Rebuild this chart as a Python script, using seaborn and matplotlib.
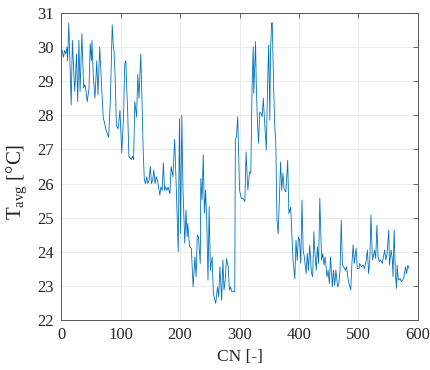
import matplotlib
matplotlib.use('Agg')
import matplotlib.pyplot as plt
import seaborn as sns
import pandas as pd

# valores (ciclo y temperatura media)
cn = [0, 2, 4, 6, 8, 10, 11, 13, 15, 17, 19, 21, 23, 26, 28, 30, 32, 35, 38, 40,
      42, 44, 47, 49, 51, 52, 54, 57, 60, 62, 65, 68, 71, 73, 75, 77, 80, 83, 86, 88,
      89, 91, 93, 96, 99, 102, 105, 107, 109, 110, 112, 114, 116, 118, 120, 122, 124, 127, 129, 131,
      134, 136, 138, 140, 142, 144, 146, 148, 150, 152, 154, 156, 158, 160, 162, 164, 166, 168, 170, 172,
      174, 176, 178, 180, 183, 185, 188, 191, 194, 197, 199, 201, 203, 205, 208, 210, 212, 213, 216, 219,
      222, 225, 227, 229, 231, 234, 235, 237, 239, 241, 243, 245, 247, 249, 251, 254, 256, 258, 260, 263,
      265, 267, 270, 272, 274, 276, 278, 281, 283, 285, 287, 290, 292, 293, 295, 297, 300, 303, 306, 309,
      311, 314, 317, 319, 321, 323, 324, 327, 328, 330, 332, 334, 336, 338, 340, 342, 345, 347, 349, 351,
      352, 354, 355, 357, 359, 361, 363, 365, 367, 369, 371, 373, 375, 378, 381, 383, 386, 388, 390, 393,
      395, 397, 399, 401, 403, 405, 407, 409, 412, 414, 416, 418, 421, 423, 425, 426, 429, 431, 433, 435,
      438, 440, 442, 444, 447, 449, 451, 453, 456, 458, 460, 462, 465, 467, 469, 471, 473, 475, 478, 480,
      482, 484, 487, 489, 491, 493, 496, 498, 501, 502, 505, 508, 510, 513, 515, 517, 519, 521, 523, 524,
      527, 529, 531, 533, 535, 537, 540, 542, 544, 546, 548, 551, 552, 555, 557, 558, 560, 562, 564, 565,
      567, 570, 572, 574, 576, 579, 581, 583, 585]

t_avg = [29.8, 29.9, 29.7, 29.9, 29.8, 30.0, 29.6, 30.7, 29.5, 28.3, 30.2, 29.4, 28.7, 29.8, 28.4, 30.2, 28.7, 30.4, 28.8, 28.9,
         28.7, 28.4, 28.8, 30.1, 29.6, 30.2, 29.2, 28.5, 29.6, 28.6, 30.0, 28.9, 27.9, 27.8, 27.6, 27.5, 27.35, 28.5, 30.65, 30.0,
         29.9, 29.1, 27.7, 27.6, 28.15, 26.9, 27.95, 29.5, 29.6, 29.0, 28.1, 26.8, 26.75, 26.7, 26.8, 26.7, 28.4, 27.95, 29.2, 28.5,
         29.8, 28.5, 27.0, 26.1, 26.0, 26.2, 26.0, 26.1, 26.5, 26.0, 26.1, 26.4, 26.0, 26.2, 26.1, 25.9, 25.66, 25.9, 25.8, 26.6,
         25.8, 25.9, 25.8, 25.9, 25.7, 26.5, 26.2, 27.3, 25.7, 24.0, 27.9, 24.54, 28.0, 25.81, 24.25, 25.22, 24.44, 24.83, 24.15, 24.1,
         22.97, 23.85, 23.27, 24.49, 24.44, 23.66, 26.15, 25.52, 26.84, 25.13, 25.81, 24.83, 23.17, 25.32, 23.46, 23.85, 22.78, 22.63, 22.49, 22.97,
         22.68, 23.56, 22.58, 23.76, 22.88, 23.17, 23.8, 23.56, 22.88, 22.97, 22.83, 22.85, 22.83, 27.28, 27.38, 27.96, 25.81, 25.57, 25.57, 25.47,
         26.93, 25.81, 26.35, 26.3, 28.74, 30.01, 28.64, 30.16, 29.04, 27.86, 27.18, 28.1, 28.06, 27.96, 28.5, 27.86, 26.98, 28.74, 30.06, 27.86,
         29.82, 30.7, 30.71, 29.13, 27.77, 27.18, 24.92, 24.53, 25.51, 26.63, 25.81, 26.3, 25.85, 25.76, 26.68, 25.12, 25.31, 24.53, 23.75, 23.21,
         24.34, 23.75, 24.43, 24.34, 23.66, 25.52, 24.05, 23.85, 23.36, 23.95, 23.46, 24.2, 23.36, 23.27, 24.59, 24.15, 23.46, 24.15, 23.66, 25.57,
         23.76, 23.95, 23.61, 23.85, 23.27, 23.46, 23.07, 23.85, 22.97, 23.46, 23.02, 23.46, 22.97, 23.07, 23.46, 24.93, 23.61, 23.56, 23.46, 23.56,
         23.27, 23.07, 22.88, 23.66, 24.2, 23.66, 24.1, 23.51, 23.51, 23.66, 23.56, 23.61, 23.51, 23.76, 24.05, 23.36, 23.76, 25.08, 23.95, 23.76,
         24.05, 23.8, 24.78, 23.85, 23.71, 23.76, 23.66, 23.85, 24.05, 23.76, 23.95, 24.64, 23.61, 24.05, 23.76, 23.27, 24.64, 23.36, 22.93, 23.61,
         23.17, 23.22, 23.12, 23.17, 23.22, 23.56, 23.36, 23.61, 23.51]

x_ticks = [0, 100, 200, 300, 400, 500, 600]
y_ticks = [22, 23, 24, 25, 26, 27, 28, 29, 30, 31]

sns.set_style('white')
plt.rcParams['font.family'] = ['Liberation Serif', 'DejaVu Serif']
plt.rcParams['mathtext.fontset'] = 'custom'
plt.rcParams['mathtext.rm'] = 'Liberation Serif'
plt.rcParams['mathtext.it'] = 'Liberation Serif:italic'

df = pd.DataFrame({'CN': cn, 'T': t_avg})

fig = plt.figure(figsize=(4.3, 3.7), dpi=100)
ax = fig.add_axes([0.142, 0.135, 0.830, 0.830])
sns.lineplot(data=df, x='CN', y='T', color='#0072BD', linewidth=0.6, ax=ax)

ax.set_xlim(0, 600)
ax.set_ylim(22, 31)
ax.set_xticks(x_ticks)
ax.set_yticks(y_ticks)
ax.grid(True, color='#ebebeb', linewidth=0.7)
ax.set_axisbelow(True)
for s in ax.spines.values():
    s.set_color('#555555')
    s.set_linewidth(0.7)
    s.set_visible(True)
ax.tick_params(direction='in', top=True, right=True, length=3.5, width=0.6,
               color='#555555', labelcolor='#262626', labelsize=12, pad=5)
ax.set_xlabel('CN [-]', fontsize=12.5, color='#262626', labelpad=4)
ax.set_ylabel(r'T$_{\mathrm{avg}}$ [°C]', fontsize=15, color='#262626')
ax.yaxis.set_label_coords(-0.09, 0.45)

fig.savefig('out.png', dpi=100)
